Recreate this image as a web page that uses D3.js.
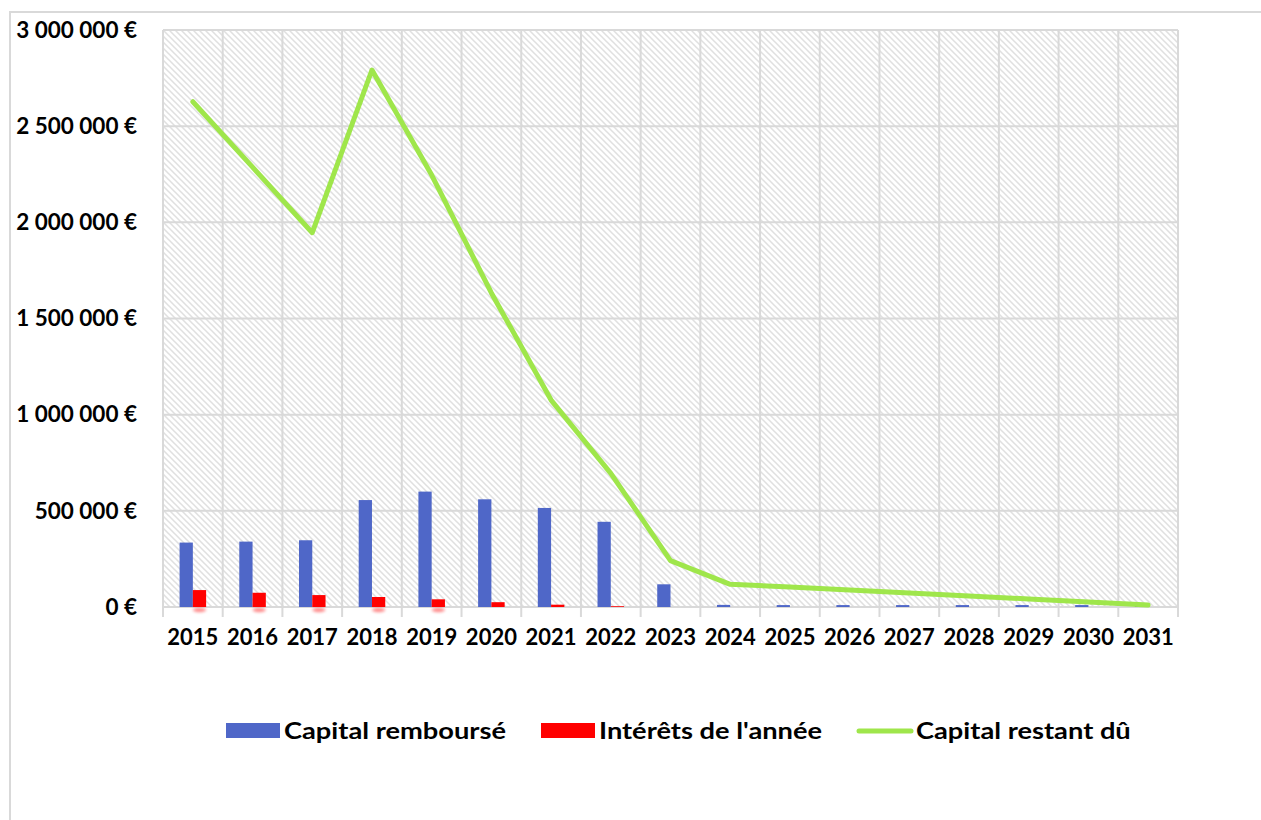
<!DOCTYPE html>
<html>
<head>
<meta charset="utf-8">
<script src="https://d3js.org/d3.v7.min.js"></script>
<style>
  body { margin: 0; background: #fff; }
  text { font-family: Lato, "Open Sans", sans-serif; font-weight: bold; fill: #000; }
</style>
</head>
<body>
<div id="container"></div>
<script>
// data
const years = ["2015","2016","2017","2018","2019","2020","2021","2022","2023",
               "2024","2025","2026","2027","2028","2029","2030","2031"];
const capitalRembourse = [335000, 340000, 347000, 556000, 600000, 560000, 515000, 443000, 118000,
                          11000, 10000, 10000, 10000, 10000, 10000, 10000, 9000];
const interets = [88000, 74000, 62000, 52000, 40000, 25000, 12000, 4000, 0,
                  0, 0, 0, 0, 0, 0, 0, 0];
const capitalRestant = [2627000, 2287000, 1946000, 2792000, 2246000, 1633000, 1076000, 695000, 241000,
                        118000, 104000, 88000, 73000, 57000, 42000, 26000, 10000];
const yTicks = [0, 500000, 1000000, 1500000, 2000000, 2500000, 3000000];
const legendItems = ["Capital remboursé", "Intérêts de l'année", "Capital restant dû"];

const W = 1261, H = 820;
const plot = {left: 163, right: 1178, top: 30, bottom: 607};
const blue = "#4f67c8", red = "#ff0000", green = "#9fe64b", grid = "#d9d9d9";

const svg = d3.select("#container").append("svg")
  .attr("width", W).attr("height", H);

const defs = svg.append("defs");
const pat = defs.append("pattern")
  .attr("id", "hatch")
  .attr("patternUnits", "userSpaceOnUse")
  .attr("x", plot.left).attr("y", plot.top)
  .attr("width", 6).attr("height", 6);
pat.append("rect").attr("width", 6).attr("height", 6).attr("fill", "#fff");
pat.append("path")
  .attr("d", "M-1,-1L7,7M-1,5L1,7M5,-1L7,1")
  .attr("stroke", "#e0e0e0").attr("stroke-width", 1.5);

const blur = defs.append("filter").attr("id", "soft")
  .attr("x", "-50%").attr("y", "-50%").attr("width", "200%").attr("height", "200%");
blur.append("feGaussianBlur").attr("stdDeviation", 1.5);

// chart frame
svg.append("rect")
  .attr("x", 10).attr("y", 12)
  .attr("width", W + 20).attr("height", H + 20)
  .attr("fill", "#fff").attr("stroke", grid).attr("stroke-width", 2);

// scales
const x = d3.scaleBand().domain(years).range([plot.left, plot.right]);
const x1 = d3.scaleBand().domain(["cap", "int"]).range([0, x.bandwidth()]).paddingOuter(1.25);
const y = d3.scaleLinear().domain([0, 3000000]).range([plot.bottom, plot.top]);

// plot area background
svg.append("rect")
  .attr("x", plot.left).attr("y", plot.top)
  .attr("width", plot.right - plot.left).attr("height", plot.bottom - plot.top)
  .attr("fill", "url(#hatch)");

// horizontal gridlines
svg.append("g").selectAll("line").data(yTicks).join("line")
  .attr("x1", plot.left).attr("x2", plot.right)
  .attr("y1", d => y(d)).attr("y2", d => y(d))
  .attr("stroke", grid).attr("stroke-width", 2);

// vertical gridlines / category ticks
const bounds = years.map(d => x(d)).concat([plot.right]);
svg.append("g").selectAll("line").data(bounds).join("line")
  .attr("x1", d => d).attr("x2", d => d)
  .attr("y1", plot.top).attr("y2", plot.bottom + 10)
  .attr("stroke", grid).attr("stroke-width", 2);

// y axis labels
const fr = d3.formatLocale({decimal: ",", thousands: " ", grouping: [3], currency: ["", " €"]});
const fmt = fr.format(",.0f");
const yAxis = svg.append("g")
  .attr("transform", "translate(137,0)")
  .call(d3.axisLeft(y).tickValues(yTicks).tickSize(0).tickPadding(0).tickFormat(d => fmt(d) + " €"));
yAxis.select(".domain").remove();
yAxis.selectAll("text").style("font-size", "22.5px").attr("font-family", null);

// x axis labels
const xAxis = svg.append("g")
  .attr("transform", "translate(0," + plot.bottom + ")")
  .call(d3.axisBottom(x).tickSize(0).tickPadding(22));
xAxis.select(".domain").remove();
xAxis.selectAll("text").style("font-size", "22px").attr("font-family", null);

// faint red reflections under the axis
svg.append("g").selectAll("ellipse").data(years.filter((d, i) => interets[i] > 30000)).join("ellipse")
  .attr("cx", d => x(d) + x1("int") + x1.bandwidth() / 2)
  .attr("cy", plot.bottom + 3)
  .attr("rx", x1.bandwidth() / 2).attr("ry", 2.2)
  .attr("fill", red).attr("opacity", 0.45)
  .attr("filter", "url(#soft)");

// bars
svg.append("g").selectAll("rect").data(years).join("rect")
  .attr("x", d => x(d) + x1("cap"))
  .attr("width", x1.bandwidth())
  .attr("y", (d, i) => y(capitalRembourse[i]))
  .attr("height", (d, i) => y(0) - y(capitalRembourse[i]))
  .attr("fill", blue);

svg.append("g").selectAll("rect").data(years).join("rect")
  .attr("x", d => x(d) + x1("int"))
  .attr("width", x1.bandwidth())
  .attr("y", (d, i) => y(interets[i]))
  .attr("height", (d, i) => y(0) - y(interets[i]))
  .attr("fill", red);

// line
const line = d3.line()
  .x((d, i) => x(years[i]) + x.bandwidth() / 2)
  .y(d => y(d));
svg.append("path")
  .datum(capitalRestant)
  .attr("d", line)
  .attr("fill", "none")
  .attr("stroke", green).attr("stroke-width", 5)
  .attr("stroke-linecap", "round").attr("stroke-linejoin", "round");

// legend
const legendX = [226, 541, 858];
const lg = svg.append("g").attr("transform", "translate(0,731)");
legendItems.forEach((name, i) => {
  const g = lg.append("g").attr("transform", "translate(" + legendX[i] + ",0)");
  if (i < 2) {
    g.append("rect").attr("x", 0).attr("y", -8).attr("width", 54).attr("height", 15)
      .attr("fill", i === 0 ? blue : red);
  } else {
    g.append("line").attr("x1", 1).attr("x2", 53).attr("y1", 0).attr("y2", 0)
      .attr("stroke", green).attr("stroke-width", 5).attr("stroke-linecap", "round");
  }
  // wide, condensed-looking legend text in the original
  g.append("text")
    .attr("transform", "translate(58,0) scale(1.24,1)")
    .attr("dy", "0.35em")
    .style("font-size", "22px").text(name);
});
</script>
</body>
</html>
